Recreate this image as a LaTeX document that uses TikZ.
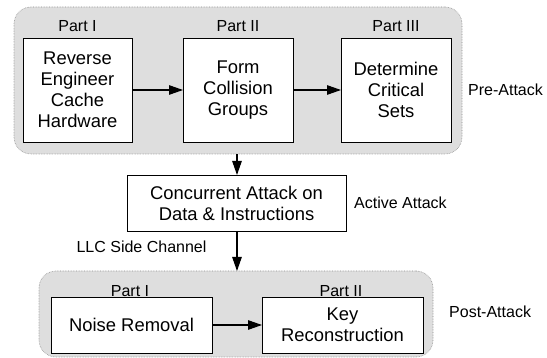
\documentclass[tikz,border=0pt]{standalone}
\usepackage{fontspec}
\setmainfont{Liberation Sans}
\usetikzlibrary{arrows.meta}
\definecolor{panelgray}{RGB}{222,222,222}
\definecolor{panelborder}{RGB}{140,140,140}
\tikzset{
  panel/.style={draw=panelborder, densely dotted, line width=0.6pt, fill=panelgray, rounded corners=17pt, inner sep=0pt, outer sep=0pt},
  stepbox/.style={draw=black, line width=0.9pt, fill=white, inner sep=0pt, outer sep=0pt, align=center, font=\fontsize{18.4}{21}\selectfont},
  lbl/.style={inner sep=0pt, font=\fontsize{16}{19}\selectfont},
  arr/.style={line width=1.1pt, -{Triangle[length=14pt,width=9.5pt]}}
}
\begin{document}
\begin{tikzpicture}[x=1pt,y=-1pt]
\useasboundingbox (0,0) rectangle (547,358);
% panels
\node[panel, minimum width=448pt, minimum height=147pt] (pre) at (238,80.5) {};
\node[panel, minimum width=394pt, minimum height=86pt] (post) at (236,314) {};
% pre-attack boxes
\node[stepbox, minimum width=109pt, minimum height=104pt] (rev) at (77.5,90) {Reverse\\Engineer\\Cache\\Hardware};
\node[stepbox, minimum width=110pt, minimum height=104pt] (form) at (238,90) {Form\\Collision\\Groups};
\node[stepbox, minimum width=110pt, minimum height=104pt] (det) at (396,90) {Determine\\Critical\\Sets};
\node[lbl] (p1) at (77.5,26) {Part I};
\node[lbl] (p2) at (238,26) {Part II};
\node[lbl] (p3) at (396,26) {Part III};
\node[lbl, anchor=west] (prel) at (468,90) {Pre-Attack};
% active
\node[stepbox, minimum width=219pt, minimum height=56pt] (conc) at (236.5,203) {Concurrent Attack on\\Data \& Instructions};
\node[lbl, anchor=west] (actl) at (354,203) {Active Attack};
\node[lbl] (llc) at (141.5,247) {LLC Side Channel};
% post-attack boxes
\node[stepbox, minimum width=161pt, minimum height=56pt] (noise) at (131.5,325) {Noise Removal};
\node[stepbox, minimum width=161pt, minimum height=56pt] (key) at (342.5,325) {Key\\Reconstruction};
\node[lbl] (q1) at (130,291) {Part I};
\node[lbl] (q2) at (341,291) {Part II};
\node[lbl, anchor=west] (postl) at (449,312) {Post-Attack};
% arrows
\draw[arr] (rev.east) -- (form.west);
\draw[arr] (form.east) -- (det.west);
\draw[arr] (pre.south -| 237,0) -- (conc.north -| 237,0);
\draw[arr] (conc.south -| 237,0) -- (post.north -| 237,0);
\draw[arr] (noise.east) -- (key.west);
\end{tikzpicture}
\end{document}
